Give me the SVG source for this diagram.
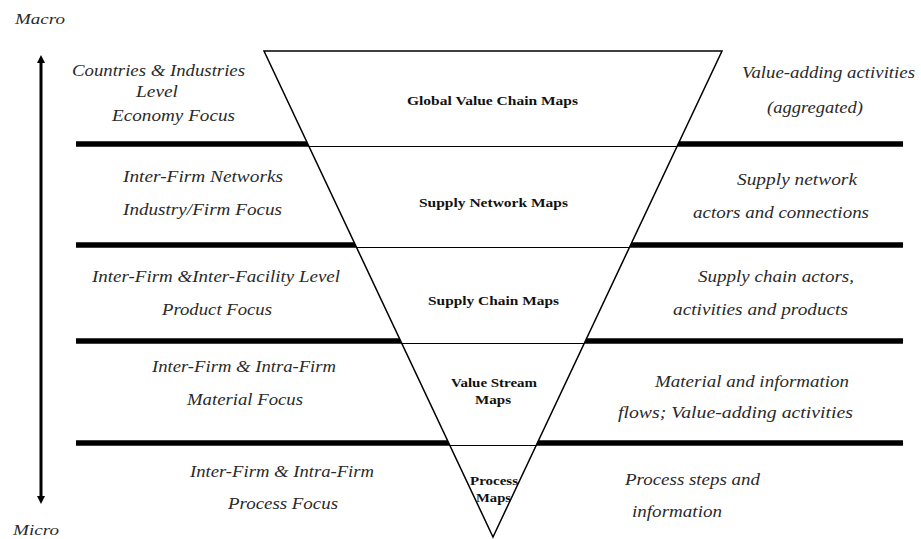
<svg xmlns="http://www.w3.org/2000/svg" width="921" height="539" viewBox="0 0 921 539">
<style>
.it{font-family:"Liberation Serif","Times New Roman",serif;font-style:italic;font-size:17px;fill:#2a2a2a}
.lb{font-family:"Liberation Serif","Times New Roman",serif;font-weight:bold;font-size:13px;fill:#111;text-anchor:middle}
.bar{stroke:#000;stroke-width:5.5}
.thin{stroke:#000;stroke-width:1.2}
.tri{fill:#fff;stroke:#000;stroke-width:1.5}
</style>
<rect width="921" height="539" fill="#fff"/>
<g id="connectors">
<line x1="41" y1="62" x2="41" y2="497" stroke="#000" stroke-width="3"/>
<path d="M37,63 L41,55 L45,63 z" fill="#000"/>
<path d="M37,496 L41,504 L45,496 z" fill="#000"/>
<line class="bar" x1="76" y1="144" x2="903" y2="144"/>
<line class="bar" x1="76" y1="245" x2="903" y2="245"/>
<line class="bar" x1="76" y1="341" x2="903" y2="341"/>
<line class="bar" x1="76" y1="443" x2="903" y2="443"/>
</g>
<g id="pyramid">
<polygon class="tri" points="264,51 722,51 493,537"/>
<line class="thin" x1="308.8" y1="146.5" x2="677.2" y2="146.5"/>
<line class="thin" x1="356.4" y1="247.5" x2="629.6" y2="247.5"/>
<line class="thin" x1="401.6" y1="343.5" x2="584.4" y2="343.5"/>
<line class="thin" x1="449.7" y1="445.5" x2="536.3" y2="445.5"/>
</g>
<g id="scale-labels">
<text class="it" x="15" y="24" style="font-size:14px" textLength="50" lengthAdjust="spacingAndGlyphs">Macro</text>
<text class="it" x="13" y="535" style="font-size:14px" textLength="46" lengthAdjust="spacingAndGlyphs">Micro</text>
</g>
<g id="level1">
<text class="it" x="72" y="76" textLength="173" lengthAdjust="spacingAndGlyphs">Countries &amp; Industries</text>
<text class="it" x="136" y="97" textLength="42" lengthAdjust="spacingAndGlyphs">Level</text>
<text class="it" x="112" y="121" textLength="123" lengthAdjust="spacingAndGlyphs">Economy Focus</text>
<text class="lb" x="492.5" y="105" textLength="171" lengthAdjust="spacingAndGlyphs">Global Value Chain Maps</text>
<text class="it" x="742" y="78" textLength="173" lengthAdjust="spacingAndGlyphs">Value-adding activities</text>
<text class="it" x="767" y="113" textLength="96" lengthAdjust="spacingAndGlyphs">(aggregated)</text>
</g>
<g id="level2">
<text class="it" x="123" y="182" textLength="160" lengthAdjust="spacingAndGlyphs">Inter-Firm Networks</text>
<text class="it" x="123" y="215" textLength="159" lengthAdjust="spacingAndGlyphs">Industry/Firm Focus</text>
<text class="lb" x="493.5" y="207" textLength="149" lengthAdjust="spacingAndGlyphs">Supply Network Maps</text>
<text class="it" x="737" y="185" textLength="120" lengthAdjust="spacingAndGlyphs">Supply network</text>
<text class="it" x="693" y="218" textLength="176" lengthAdjust="spacingAndGlyphs">actors and connections</text>
</g>
<g id="level3">
<text class="it" x="92" y="282" textLength="248" lengthAdjust="spacingAndGlyphs">Inter-Firm &amp;Inter-Facility Level</text>
<text class="it" x="162" y="315" textLength="110" lengthAdjust="spacingAndGlyphs">Product Focus</text>
<text class="lb" x="493.5" y="305" textLength="131" lengthAdjust="spacingAndGlyphs">Supply Chain Maps</text>
<text class="it" x="698" y="282" textLength="156" lengthAdjust="spacingAndGlyphs">Supply chain actors,</text>
<text class="it" x="673" y="315" textLength="175" lengthAdjust="spacingAndGlyphs">activities and products</text>
</g>
<g id="level4">
<text class="it" x="152" y="372" textLength="184" lengthAdjust="spacingAndGlyphs">Inter-Firm &amp; Intra-Firm</text>
<text class="it" x="187" y="405" textLength="116" lengthAdjust="spacingAndGlyphs">Material Focus</text>
<text class="lb" x="494" y="387" textLength="86" lengthAdjust="spacingAndGlyphs">Value Stream</text>
<text class="lb" x="493" y="404" textLength="36" lengthAdjust="spacingAndGlyphs">Maps</text>
<text class="it" x="655" y="387" textLength="194" lengthAdjust="spacingAndGlyphs">Material and information</text>
<text class="it" x="618" y="418" textLength="235" lengthAdjust="spacingAndGlyphs">flows; Value-adding activities</text>
</g>
<g id="level5">
<text class="it" x="190" y="477" textLength="184" lengthAdjust="spacingAndGlyphs">Inter-Firm &amp; Intra-Firm</text>
<text class="it" x="228" y="509" textLength="110" lengthAdjust="spacingAndGlyphs">Process Focus</text>
<text class="lb" x="494" y="485" textLength="48" lengthAdjust="spacingAndGlyphs">Process</text>
<text class="lb" x="493.5" y="502" textLength="35" lengthAdjust="spacingAndGlyphs">Maps</text>
<text class="it" x="625" y="485" textLength="135" lengthAdjust="spacingAndGlyphs">Process steps and</text>
<text class="it" x="632" y="517" textLength="90" lengthAdjust="spacingAndGlyphs">information</text>
</g>
</svg>
